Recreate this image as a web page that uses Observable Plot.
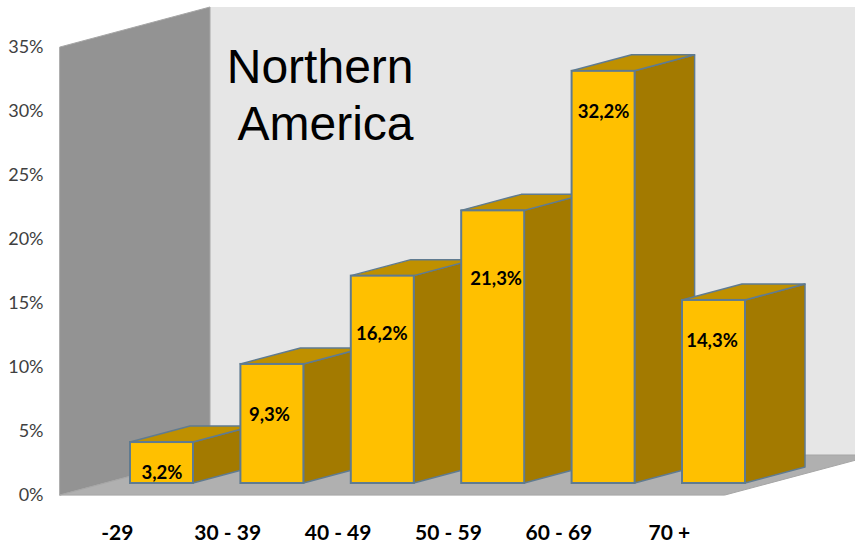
<!DOCTYPE html>
<html>
<head>
<meta charset="utf-8">
<style>html,body{margin:0;padding:0;background:#fff;overflow:hidden}svg{display:block;overflow:hidden}</style>
<script src="https://cdn.jsdelivr.net/npm/d3@7"></script>
<script src="https://cdn.jsdelivr.net/npm/@observablehq/plot@0.6"></script>
</head>
<body>
<div id="chart"></div>
<script>
const categories = ["-29", "30 - 39", "40 - 49", "50 - 59", "60 - 69", "70 +"];
const values = [3.2, 9.3, 16.2, 21.3, 32.2, 14.3];
const valueLabels = ["3,2%", "9,3%", "16,2%", "21,3%", "32,2%", "14,3%"];
const yTicks = [0, 5, 10, 15, 20, 25, 30, 35];
const title = "Northern\nAmerica";

// Pseudo-3D layout, in scale units (x: category index, y: percent)
const pxX = 110.4, pxY = 12.8;
const barHalf = 31.5 / pxX, barDX = 60 / pxX, barDY = 16 / pxY, barBase = 12 / pxY;
const wallLeft = (60 - 161.5) / pxX, wallDX = 150 / pxX, wallDY = 40 / pxY;
const floorRight = (725 - 161.5) / pxX;
const wallTop = 35;
const labelDrop = [31, 51, 58, 68, 41, 41];
const labelShift = [0, -3, -1, 3, 0, -2];

const C = {back: "#e6e6e6", left: "#939393", floor: "#b0b0b0", front: "#ffc000", top: "#bf9000", side: "#a37a00", edge: "#5f7b91", rim: "#a6a6a6"};

const bars = values.map((v, i) => ({i, v, cat: categories[i], label: valueLabels[i]}));

const barMarks = bars.flatMap(({i, v}) => {
  const x1 = i - barHalf, x2 = i + barHalf, top = barBase + v;
  return [
    Plot.areaY([
      {x: x2, y1: barBase, y2: top},
      {x: x2 + barDX, y1: barBase + barDY, y2: top + barDY}
    ], {x: "x", y1: "y1", y2: "y2", fill: C.side, stroke: C.edge, strokeWidth: 1.5}),
    Plot.areaX([
      {y: top, x1, x2},
      {y: top + barDY, x1: x1 + barDX, x2: x2 + barDX}
    ], {y: "y", x1: "x1", x2: "x2", fill: C.top, stroke: C.edge, strokeWidth: 1.5}),
    Plot.rect([{x1, x2, y1: barBase, y2: top}], {x1: "x1", x2: "x2", y1: "y1", y2: "y2", fill: C.front, stroke: C.edge, strokeWidth: 2})
  ];
});

const chart = Plot.plot({
  width: 855,
  height: 544,
  marginLeft: 43,
  marginRight: 0,
  marginTop: 0,
  marginBottom: 0,
  style: {background: "#fff", overflow: "hidden"},
  x: {type: "linear", domain: [-161.5 / pxX, (855 - 161.5) / pxX], range: [0, 855], axis: null},
  y: {type: "linear", domain: [0, 35], range: [495, 47], axis: null},
  marks: [
    // back wall
    Plot.rect([{x1: wallLeft + wallDX, x2: (855 - 161.5) / pxX, y1: wallDY, y2: wallTop + wallDY}],
      {x1: "x1", x2: "x2", y1: "y1", y2: "y2", fill: C.back}),
    // left wall
    Plot.areaY([
      {x: wallLeft, y1: 0, y2: wallTop},
      {x: wallLeft + wallDX, y1: wallDY, y2: wallTop + wallDY}
    ], {x: "x", y1: "y1", y2: "y2", fill: C.left, stroke: C.rim, strokeWidth: 1}),
    // floor
    Plot.areaX([
      {y: 0, x1: wallLeft, x2: floorRight},
      {y: wallDY, x1: wallLeft + wallDX, x2: floorRight + wallDX}
    ], {y: "y", x1: "x1", x2: "x2", fill: C.floor, stroke: C.rim, strokeWidth: 1}),
    ...barMarks,
    Plot.axisY({
      ticks: yTicks,
      tickFormat: d => d + "%",
      tickSize: 0,
      tickPadding: 0,
      label: null,
      fontSize: 18,
      fill: "#404040",
      fontFamily: "Lato"
    }),
    Plot.text(bars, {
      x: (d, i) => d.i + labelShift[i] / pxX,
      y: (d, i) => barBase + d.v - labelDrop[i] / pxY,
      text: "label",
      fontSize: 18.5,
      fontWeight: 700,
      fontFamily: "Lato",
      fill: "#000"
    }),
    Plot.text(bars, {
      x: d => d.i - 0.405,
      frameAnchor: "bottom",
      dy: -11,
      text: "cat",
      lineAnchor: "middle",
      fontSize: 21,
      fontWeight: 700,
      fontFamily: "Lato",
      fill: "#000"
    }),
    Plot.text([title], {
      x: () => (413 - 161.5) / pxX,
      y: () => 31.4,
      text: d => d,
      textAnchor: "end",
      lineAnchor: "middle",
      lineHeight: 1.19,
      fontSize: 48,
      fontFamily: "Liberation Sans",
      fill: "#000"
    })
  ]
});
document.getElementById("chart").append(chart);
</script>
</body>
</html>
